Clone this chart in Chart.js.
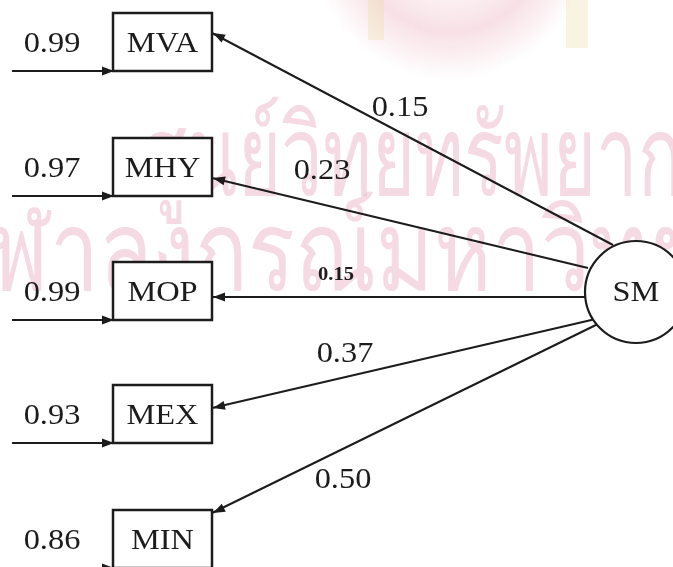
<!DOCTYPE html>
<html>
<head>
<meta charset="utf-8">
<script src="https://cdn.jsdelivr.net/npm/chart.js@4.4.1/dist/chart.umd.min.js"></script>
<style>
  html, body { margin: 0; padding: 0; background: #ffffff; }
  #wrap { width: 673px; height: 567px; }
</style>
</head>
<body>
<div id="wrap"><canvas id="c" width="673" height="567"></canvas></div>
<script>
// ---- data ----
const indicators = ['MVA', 'MHY', 'MOP', 'MEX', 'MIN'];
const loadings = [0.15, 0.23, 0.15, 0.37, 0.50];
const errorVariances = [0.99, 0.97, 0.99, 0.93, 0.86];
const latentName = 'SM';

// ---- layout (diagram geometry, in axis units) ----
const boxLeft = 113, boxRight = 212, boxHeight = 58;
const boxTops = [13, 138, 262, 385, 510];
const arrowTipY = [33, 178, 297, 408, 513];
const arrowTails = [[613, 245], [588, 268], [585, 297], [600, 318], [602, 322]];
const loadLabelPos = [[400, 108], [322, 171], [336, 275], [345, 354], [343, 480]];
const loadLabelFont = ['30px "Liberation Serif"', '30px "Liberation Serif"', 'bold 19px "Liberation Serif"', '30px "Liberation Serif"', '30px "Liberation Serif"'];
const errStartX = 12;
const errLabelX = 52;
const circle = { x: 636, y: 292, r: 51 };
const ink = '#1c1c1c';
const textStretch = 1.08;

const datasets = [];
// latent circle
datasets.push({
  data: [{ x: circle.x, y: circle.y }],
  pointRadius: circle.r, pointHoverRadius: circle.r, pointStyle: 'circle',
  backgroundColor: '#ffffff', borderColor: ink, borderWidth: 2.2, showLine: false, clip: false, order: 0
});
// loading paths and error paths
indicators.forEach((name, i) => {
  datasets.push({
    data: [{ x: arrowTails[i][0], y: arrowTails[i][1] }, { x: boxRight, y: arrowTipY[i] }],
    showLine: true, borderColor: ink, borderWidth: 2, pointRadius: 0, clip: false, order: 1
  });
  const yb = boxTops[i] + boxHeight;
  datasets.push({
    data: [{ x: errStartX, y: yb }, { x: boxLeft, y: yb }],
    showLine: true, borderColor: ink, borderWidth: 2, pointRadius: 0, clip: false, order: 1
  });
});

function arrowHead(ctx, x1, y1, x2, y2, len, half) {
  const a = Math.atan2(y2 - y1, x2 - x1);
  ctx.beginPath();
  ctx.moveTo(x2, y2);
  ctx.lineTo(x2 - len * Math.cos(a) + half * Math.sin(a), y2 - len * Math.sin(a) - half * Math.cos(a));
  ctx.lineTo(x2 - len * Math.cos(a) - half * Math.sin(a), y2 - len * Math.sin(a) + half * Math.cos(a));
  ctx.closePath();
  ctx.fill();
}

function stretchedText(ctx, txt, px, py) {
  ctx.save();
  ctx.translate(px, py);
  ctx.scale(textStretch, 1);
  ctx.fillText(txt, 0, 0);
  ctx.restore();
}

const watermark = {
  id: 'watermark',
  beforeDatasetsDraw(chart) {
    const { ctx, scales: { x, y } } = chart;
    ctx.save();
    // faded emblem at top
    const g = ctx.createRadialGradient(x.getPixelForValue(450), y.getPixelForValue(-60), 20, x.getPixelForValue(450), y.getPixelForValue(-60), 140);
    g.addColorStop(0, 'rgba(240, 190, 200, 0.0)');
    g.addColorStop(0.6, 'rgba(236, 178, 192, 0.4)');
    g.addColorStop(1, 'rgba(236, 178, 192, 0)');
    ctx.fillStyle = g;
    ctx.fillRect(x.getPixelForValue(290), 0, 330, 90);
    ctx.fillStyle = 'rgba(235, 220, 160, 0.3)';
    ctx.fillRect(x.getPixelForValue(368), 0, 16, 40);
    ctx.fillRect(x.getPixelForValue(566), 0, 22, 48);

    ctx.fillStyle = 'rgba(236, 180, 200, 0.5)';
    ctx.textBaseline = 'alphabetic';
    ctx.font = '112px "Noto Sans", "DejaVu Sans", sans-serif';
    ctx.save();
    ctx.translate(x.getPixelForValue(140), y.getPixelForValue(195));
    ctx.scale(0.66, 1);
    ctx.fillText('ศูนย์วิทยทรัพยากร', 0, 0);
    ctx.restore();
    ctx.save();
    ctx.translate(x.getPixelForValue(-62), y.getPixelForValue(290));
    ctx.scale(0.78, 1);
    ctx.fillText('จุฬาลงกรณ์มหาวิทยาลัย', 0, 0);
    ctx.restore();
    ctx.restore();
  }
};

const diagram = {
  id: 'diagram',
  afterDatasetsDraw(chart) {
    const { ctx, scales: { x, y } } = chart;
    ctx.save();
    ctx.fillStyle = ink;
    ctx.strokeStyle = ink;
    ctx.textAlign = 'center';
    ctx.textBaseline = 'middle';
    indicators.forEach((name, i) => {
      const l = x.getPixelForValue(boxLeft), r = x.getPixelForValue(boxRight);
      const t = y.getPixelForValue(boxTops[i]), b = y.getPixelForValue(boxTops[i] + boxHeight);
      ctx.fillStyle = '#ffffff';
      ctx.fillRect(l, t, r - l, b - t);
      ctx.lineWidth = 2.5;
      ctx.strokeRect(l, t, r - l, b - t);
      ctx.fillStyle = ink;
      ctx.font = '30px "Liberation Serif", serif';
      stretchedText(ctx, name, (l + r) / 2, (t + b) / 2 + 2);
      // loading arrowhead
      arrowHead(ctx, x.getPixelForValue(arrowTails[i][0]), y.getPixelForValue(arrowTails[i][1]),
        x.getPixelForValue(boxRight) + 1, y.getPixelForValue(arrowTipY[i]), 12, 4.5);
      // error arrowhead
      arrowHead(ctx, x.getPixelForValue(errStartX), b, l + 1, b, 12, 4.5);
      // error label
      ctx.font = '30px "Liberation Serif", serif';
      stretchedText(ctx, errorVariances[i].toFixed(2), x.getPixelForValue(errLabelX), (t + b) / 2 + 2);
      // loading label
      ctx.font = loadLabelFont[i];
      stretchedText(ctx, loadings[i].toFixed(2), x.getPixelForValue(loadLabelPos[i][0]), y.getPixelForValue(loadLabelPos[i][1]));
    });
    ctx.font = '30px "Liberation Serif", serif';
    stretchedText(ctx, latentName, x.getPixelForValue(circle.x), y.getPixelForValue(circle.y) + 1);
    ctx.restore();
  }
};

new Chart(document.getElementById('c'), {
  type: 'scatter',
  data: { datasets },
  options: {
    responsive: false,
    animation: false,
    events: [],
    layout: { padding: 0, autoPadding: false },
    plugins: { legend: { display: false }, tooltip: { enabled: false } },
    scales: {
      x: { type: 'linear', min: 0, max: 673, display: false },
      y: { type: 'linear', min: 0, max: 567, reverse: true, display: false }
    }
  },
  plugins: [watermark, diagram]
});
</script>
</body>
</html>
